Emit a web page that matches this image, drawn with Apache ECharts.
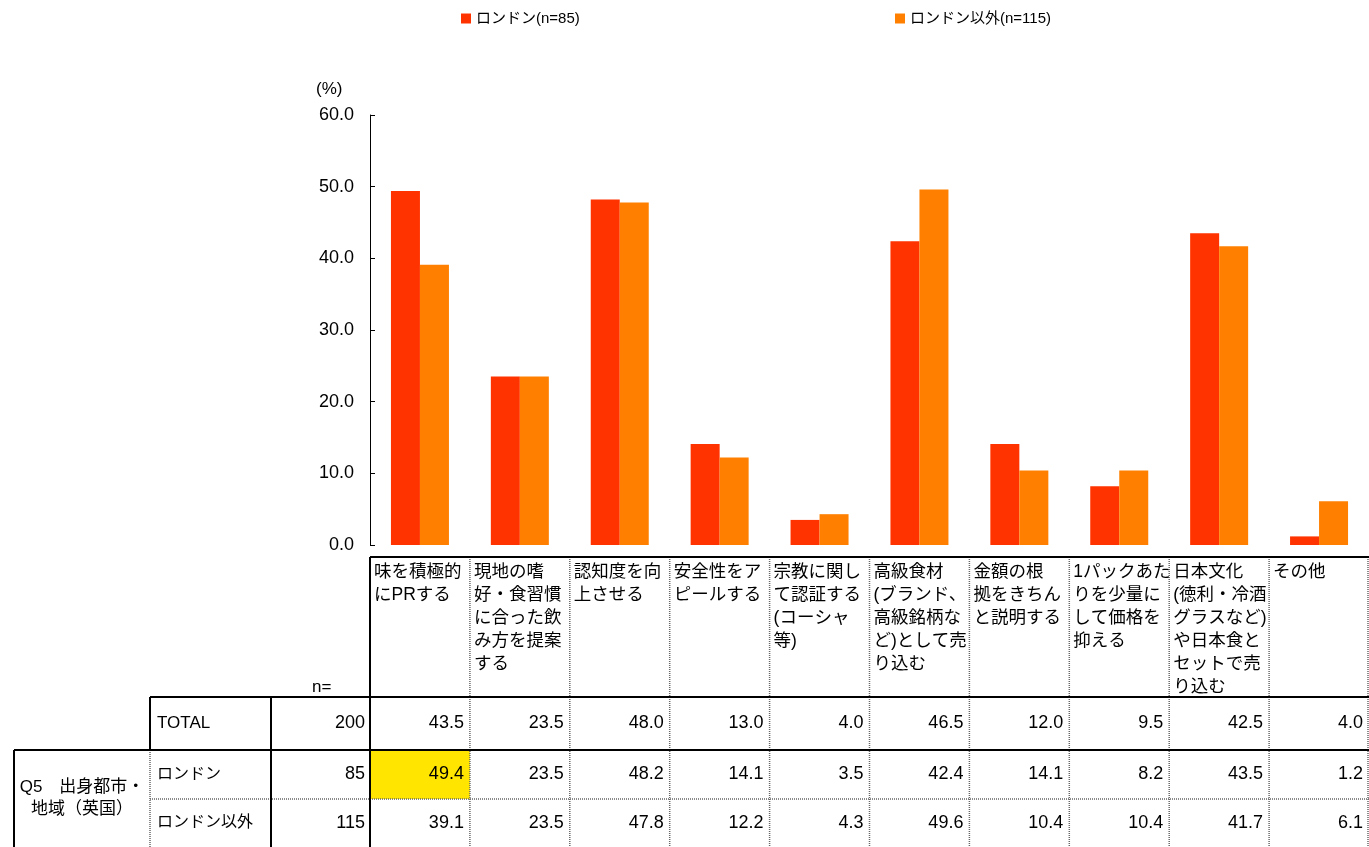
<!DOCTYPE html>
<html><head><meta charset="utf-8">
<script src="https://cdn.jsdelivr.net/npm/echarts/dist/echarts.min.js"></script>
<style>html,body{margin:0;padding:0;background:#fff}#c{width:1369px;height:847px}</style>
</head><body><div id="c"></div>
<script>
// ---- data ----
const categories = [
  '味を積極的\nにPRする',
  '現地の嗜\n好・食習慣\nに合った飲\nみ方を提案\nする',
  '認知度を向\n上させる',
  '安全性をア\nピールする',
  '宗教に関し\nて認証する\n(コーシャ\n等)',
  '高級食材\n(ブランド、\n高級銘柄な\nど)として売\nり込む',
  '金額の根\n拠をきちん\nと説明する',
  '1パックあた\nりを少量に\nして価格を\n抑える',
  '日本文化\n(徳利・冷酒\nグラスなど)\nや日本食と\nセットで売\nり込む',
  'その他'
];
const seriesNames = ['ロンドン(n=85)', 'ロンドン以外(n=115)'];
const londonValues = [49.4, 23.5, 48.2, 14.1, 3.5, 42.4, 14.1, 8.2, 43.5, 1.2];
const otherValues  = [39.1, 23.5, 47.8, 12.2, 4.3, 49.6, 10.4, 10.4, 41.7, 6.1];
const totalValues  = [43.5, 23.5, 48.0, 13.0, 4.0, 46.5, 12.0, 9.5, 42.5, 4.0];
const rowLabels = ['TOTAL', 'ロンドン', 'ロンドン以外'];
const rowN = [200, 85, 115];
const groupLabel = 'Q5　出身都市・\n地域（英国）';
const nLabel = 'n=';
const unitLabel = '(%)';
const yMin = 0, yMax = 60, yInterval = 10;
const highlightCells = [{ row: 1, col: 0 }];

// ---- styles / layout ----
const FONT = "'Liberation Sans', Arial, 'Noto Sans CJK JP', sans-serif";
const RED = '#FF3300', ORANGE = '#FF8000', HIGHLIGHT = '#FFE500';
const W = 1369;
const gridLeft = 370, gridTop = 115, gridBottom = 302;
const tableTop = 557, rowLines = [697, 750, 799, 847];
const xGroup = 14, xLabel = 150, xN = 271;

const chart = echarts.init(document.getElementById('c'), null, { renderer: 'canvas' });
const rows = [totalValues, londonValues, otherValues];

chart.setOption({
  animation: false,
  textStyle: { fontFamily: FONT },
  legend: [
    { data: [seriesNames[0]], left: 456, top: 6, itemWidth: 10, itemHeight: 10, icon: 'rect',
      textStyle: { fontSize: 15, color: '#000', fontFamily: FONT } },
    { data: [seriesNames[1]], left: 890, top: 6, itemWidth: 10, itemHeight: 10, icon: 'rect',
      textStyle: { fontSize: 15, color: '#000', fontFamily: FONT } }
  ],
  grid: { left: gridLeft, right: 0, top: gridTop, bottom: gridBottom, containLabel: false, outerBoundsMode: 'none' },
  xAxis: {
    type: 'category', data: categories,
    axisLine: { show: false }, axisTick: { show: false }, axisLabel: { show: false }
  },
  yAxis: {
    type: 'value', min: yMin, max: yMax, interval: yInterval,
    axisLine: { show: true, lineStyle: { color: '#000', width: 1 } },
    axisTick: { show: true, inside: true, length: 5, lineStyle: { color: '#000' } },
    splitLine: { show: false },
    axisLabel: { formatter: v => v.toFixed(1), fontSize: 18, color: '#000', margin: 16, fontFamily: FONT }
  },
  series: [
    { name: seriesNames[0], type: 'bar', data: londonValues, barWidth: 29, barGap: '0%', itemStyle: { color: RED } },
    { name: seriesNames[1], type: 'bar', data: otherValues, barWidth: 29, barGap: '0%', itemStyle: { color: ORANGE } }
  ]
});

// ---- table drawn from the category axis scale ----
const px = i => chart.convertToPixel({ xAxisIndex: 0 }, i);
const band = px(1) - px(0);
const colLeft = i => px(i) - band / 2;
const els = [];
const line = (x1, y1, x2, y2, dotted) => els.push({
  type: 'line', silent: true,
  shape: { x1, y1, x2, y2 },
  style: dotted ? { stroke: '#666', lineWidth: 1.5, lineDash: [1, 1] } : { stroke: '#000', lineWidth: 2 }
});
const text = (t, x, y, opt) => els.push({
  type: 'text', silent: true, x, y,
  style: Object.assign({ text: t, fill: '#000', fontFamily: FONT, fontSize: 18, textAlign: 'left', textVerticalAlign: 'middle' }, opt || {})
});

// highlight cells
highlightCells.forEach(h => {
  els.push({ type: 'rect', silent: true,
    shape: { x: colLeft(h.col), y: rowLines[h.row], width: band, height: rowLines[h.row + 1] - rowLines[h.row] },
    style: { fill: HIGHLIGHT } });
});

// dotted lines
for (let i = 1; i <= categories.length; i++) {
  const x = Math.min(colLeft(i), W - 1);
  line(x, tableTop, x, rowLines[3], true);
}
line(xLabel, rowLines[2], W, rowLines[2], true);
line(xLabel, rowLines[1], xLabel, rowLines[3], true);

// solid lines
line(gridLeft, tableTop, W, tableTop);
line(xLabel, rowLines[0], W, rowLines[0]);
line(xGroup, rowLines[1], W, rowLines[1]);
line(gridLeft, tableTop, gridLeft, rowLines[3]);
line(xN, rowLines[0], xN, rowLines[3]);
line(xLabel, rowLines[0], xLabel, rowLines[1]);
line(xGroup, rowLines[1], xGroup, rowLines[3]);

// header labels
categories.forEach((c, i) => {
  text(c, colLeft(i) + 4, tableTop + 4, { fontSize: 17.5, lineHeight: 23, textVerticalAlign: 'top' });
});
text(nLabel, 312, 687, { fontSize: 17 });
text(unitLabel, 316, 89, { fontSize: 17 });

// rows
rows.forEach((vals, r) => {
  const cy = (rowLines[r] + rowLines[r + 1]) / 2;
  text(rowLabels[r], xLabel + 7, cy, { fontSize: r === 0 ? 17 : 16 });
  text(String(rowN[r]), gridLeft - 5, cy, { textAlign: 'right' });
  vals.forEach((v, i) => {
    text(v.toFixed(1), colLeft(i) + band - 6, cy, { textAlign: 'right' });
  });
});
text(groupLabel, (xGroup + xLabel) / 2, (rowLines[1] + rowLines[3]) / 2, { fontSize: 17, lineHeight: 22, textAlign: 'center' });

chart.setOption({ graphic: { elements: els } });
</script></body></html>
